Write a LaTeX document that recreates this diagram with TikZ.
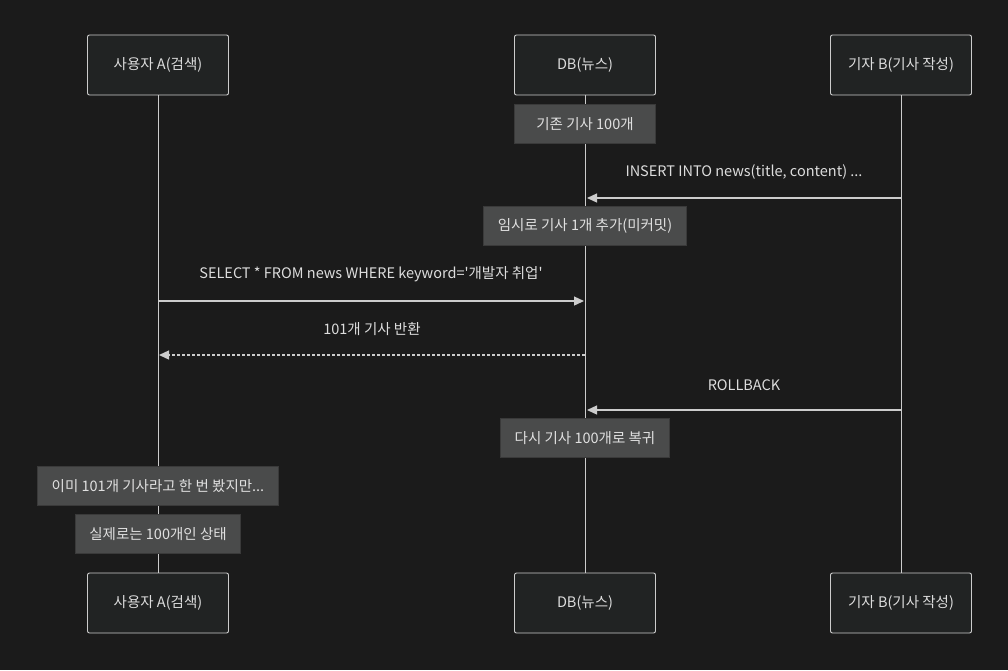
\documentclass[tikz,border=0pt]{standalone}
\usepackage{fontspec}
\setmainfont{Noto Sans CJK KR}
\usepackage{xcolor}
\usetikzlibrary{arrows.meta, positioning, calc}

\definecolor{bgdark}{HTML}{1B1B1B}
\definecolor{actorfill}{HTML}{212323}
\definecolor{linegray}{HTML}{CCCCCC}
\definecolor{notefill}{HTML}{4A4B4B}
\definecolor{noteedge}{HTML}{3A3A3A}
\definecolor{txtgray}{HTML}{DDDDDD}

\begin{document}
\begin{tikzpicture}[
  x=1pt, y=-1pt,
  actor/.style={rectangle, draw=linegray, fill=actorfill, rounded corners=2pt, line width=0.9pt,
                minimum width=141pt, minimum height=60pt, align=center,
                font=\fontsize{14.5}{17}\selectfont, text=txtgray},
  notebox/.style={rectangle, draw=noteedge, fill=notefill, line width=0.9pt,
                  minimum width=141pt, minimum height=39pt, inner xsep=14pt,
                  font=\fontsize{14.5}{17}\selectfont, text=txtgray!90},
  lifeline/.style={draw=linegray, line width=1pt},
  msg/.style={-{Triangle[length=10pt, width=9pt]}, draw=linegray, line width=1.3pt},
  reply/.style={msg, dashed, dash pattern=on 3pt off 2pt},
  mlbl/.style={font=\fontsize{14.5}{17}\selectfont, text=txtgray}
]
\fill[bgdark] (0,0) rectangle (1008,670);

% participants
\node[actor] (pA)  at (158,65)  {사용자 A(검색)};
\node[actor] (pDB) at (585,65)  {DB(뉴스)};
\node[actor] (pB)  at (901,65)  {기자 B(기사 작성)};
\node[actor] (pAe)  at (158,603) {사용자 A(검색)};
\node[actor] (pDBe) at (585,603) {DB(뉴스)};
\node[actor] (pBe)  at (901,603) {기자 B(기사 작성)};

% lifelines
\draw[lifeline] (pA) -- (pAe);
\draw[lifeline] (pDB) -- (pDBe);
\draw[lifeline] (pB) -- (pBe);

% notes
\node[notebox] (n1) at (585,124) {기존 기사 100개};
\node[notebox] (n2) at (585,226) {임시로 기사 1개 추가(미커밋)};
\node[notebox] (n3) at (585,438) {다시 기사 100개로 복귀};
\node[notebox] (n4) at (158,486) {이미 101개 기사라고 한 번 봤지만...};
\node[notebox] (n5) at (158,534) {실제로는 100개인 상태};

% messages
\coordinate (b1) at (901,198);
\coordinate (d1) at (587,198);
\coordinate (a2) at (158,301);
\coordinate (d2) at (584,301);
\coordinate (d3) at (585,355);
\coordinate (a3) at (159,355);
\coordinate (b4) at (901,410);
\coordinate (d4) at (587,410);

\draw[msg] (b1) -- node[mlbl, above=15pt]{INSERT INTO news(title, content) ...} (d1);
\draw[msg] (a2) -- node[mlbl, above=15pt]{SELECT * FROM news WHERE keyword=\textquotesingle 개발자 취업\textquotesingle} (d2);
\draw[reply] (d3) -- node[mlbl, above=15pt]{101개 기사 반환} (a3);
\draw[msg] (b4) -- node[mlbl, above=15pt]{ROLLBACK} (d4);
\end{tikzpicture}
\end{document}
